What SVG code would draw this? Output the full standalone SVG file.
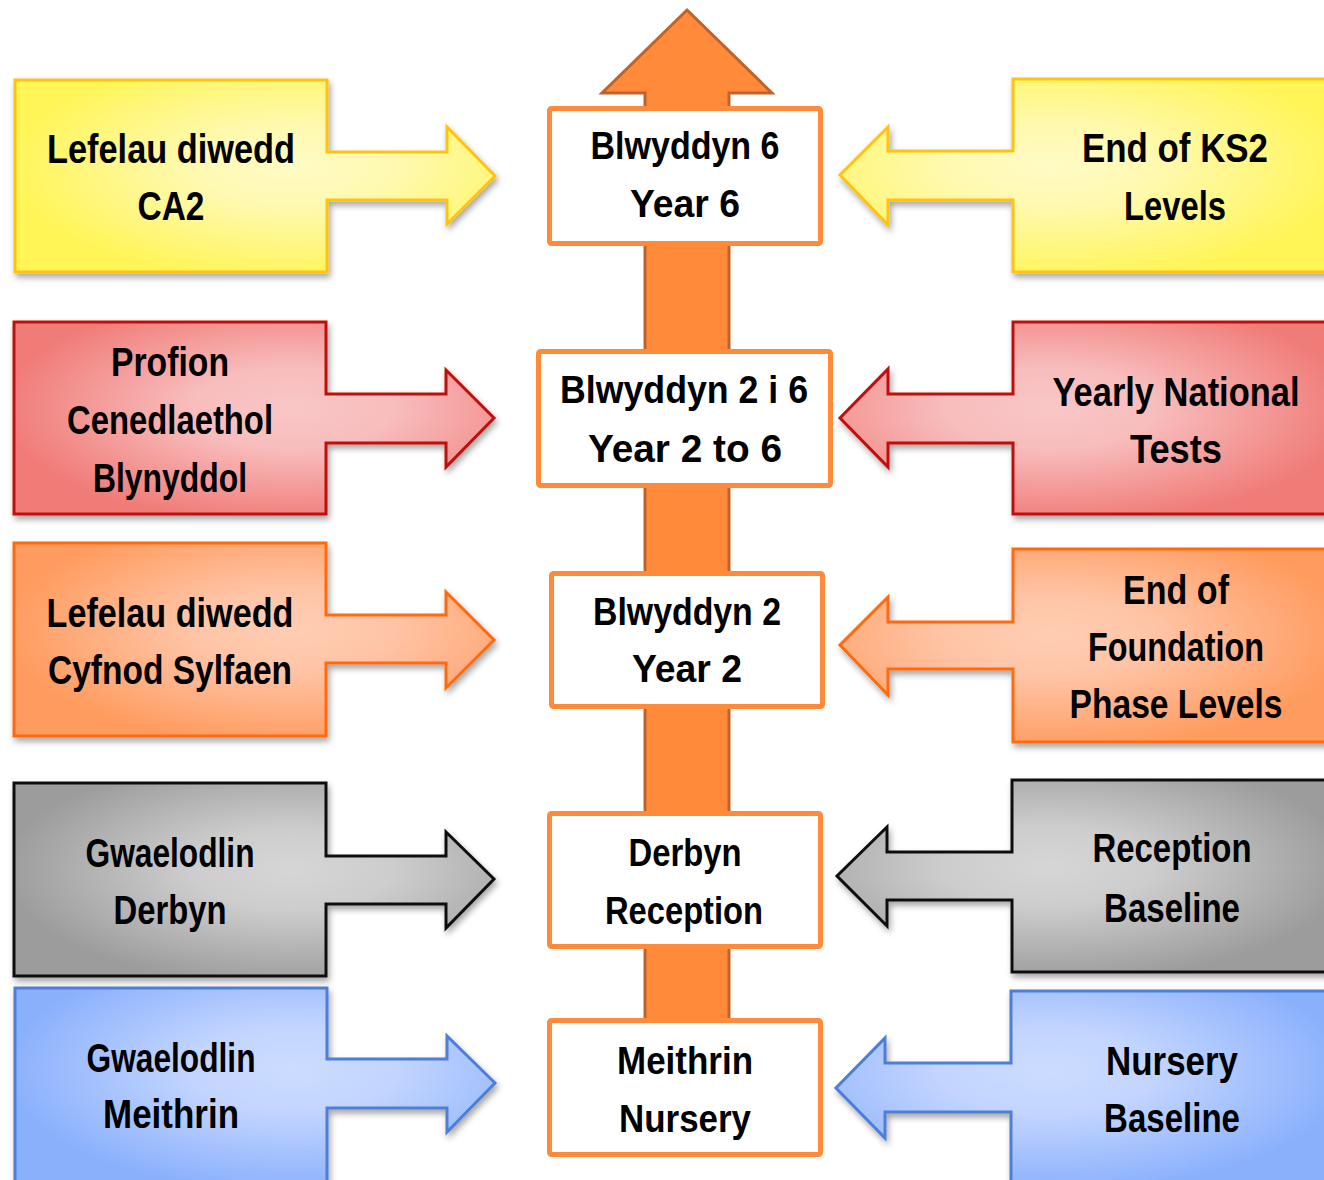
<svg xmlns="http://www.w3.org/2000/svg" width="1324" height="1180" viewBox="0 0 1324 1180">
<defs>
<filter id="sh" x="-10%" y="-10%" width="125%" height="130%">
<feDropShadow dx="2" dy="4" stdDeviation="3" flood-color="#000" flood-opacity="0.35"/>
</filter>
<radialGradient id="gyL" cx="0.58" cy="0.45" r="0.6"><stop offset="0" stop-color="#FFFBC4"/><stop offset="0.35" stop-color="#FFF9B0"/><stop offset="1" stop-color="#FFF556"/></radialGradient>
<radialGradient id="gyR" cx="0.42" cy="0.45" r="0.6"><stop offset="0" stop-color="#FFFBC4"/><stop offset="0.35" stop-color="#FFF9B0"/><stop offset="1" stop-color="#FFF556"/></radialGradient>
<radialGradient id="grL" cx="0.58" cy="0.45" r="0.6"><stop offset="0" stop-color="#F9C6C6"/><stop offset="0.35" stop-color="#F8BDBD"/><stop offset="1" stop-color="#F07C78"/></radialGradient>
<radialGradient id="grR" cx="0.42" cy="0.45" r="0.6"><stop offset="0" stop-color="#F9C6C6"/><stop offset="0.35" stop-color="#F8BDBD"/><stop offset="1" stop-color="#F07C78"/></radialGradient>
<radialGradient id="goL" cx="0.58" cy="0.45" r="0.6"><stop offset="0" stop-color="#FFCDB3"/><stop offset="0.35" stop-color="#FFC4A6"/><stop offset="1" stop-color="#FF9B5E"/></radialGradient>
<radialGradient id="goR" cx="0.42" cy="0.45" r="0.6"><stop offset="0" stop-color="#FFCDB3"/><stop offset="0.35" stop-color="#FFC4A6"/><stop offset="1" stop-color="#FF9B5E"/></radialGradient>
<radialGradient id="ggL" cx="0.58" cy="0.45" r="0.6"><stop offset="0" stop-color="#D6D6D6"/><stop offset="0.35" stop-color="#CDCDCD"/><stop offset="1" stop-color="#9C9C9C"/></radialGradient>
<radialGradient id="ggR" cx="0.42" cy="0.45" r="0.6"><stop offset="0" stop-color="#D6D6D6"/><stop offset="0.35" stop-color="#CDCDCD"/><stop offset="1" stop-color="#9C9C9C"/></radialGradient>
<radialGradient id="gbL" cx="0.58" cy="0.4" r="0.6"><stop offset="0" stop-color="#CCDCFF"/><stop offset="0.35" stop-color="#C3D5FF"/><stop offset="1" stop-color="#8AB0FC"/></radialGradient>
<radialGradient id="gbR" cx="0.42" cy="0.4" r="0.6"><stop offset="0" stop-color="#CCDCFF"/><stop offset="0.35" stop-color="#C3D5FF"/><stop offset="1" stop-color="#8AB0FC"/></radialGradient>
</defs>
<style>
.call{stroke-width:3;stroke-linejoin:miter;filter:url(#sh)}
.y{stroke:#FFC20E}
.r{stroke:#C0100C}
.o{stroke:#FF6A0E}
.g{stroke:#111}
.b{stroke:#4D7FD6}
.box{fill:#fff;stroke:#FF8B3A;stroke-width:5}
.t{font-family:"Liberation Sans","DejaVu Sans",sans-serif;font-weight:bold;font-size:40px;fill:#000;text-anchor:middle}
.c{font-size:38px}
</style>
<rect width="1324" height="1180" fill="#fff"/>

<g id="connectors">
<path id="spine" d="M687,10 L772,93 H729 V1030 H645 V93 H602 Z" fill="#FF8B3A" stroke="#C0622A" stroke-width="3" stroke-linejoin="miter"/>
</g>

<g id="left-ks2">
<path class="call y" fill="url(#gyL)" d="M15,80 H327 V152 H447 V127 L495,176 L447,224 V200 H327 V272 H15 Z"/>
<text class="t" x="171" y="163" textLength="248" lengthAdjust="spacingAndGlyphs">Lefelau diwedd</text>
<text class="t" x="171" y="220" textLength="67" lengthAdjust="spacingAndGlyphs">CA2</text>
</g>
<g id="left-tests">
<path class="call r" fill="url(#grL)" d="M14,322 H326 V394 H446 V370 L494,418 L446,467 V443 H326 V514 H14 Z"/>
<text class="t" x="170" y="376" textLength="118" lengthAdjust="spacingAndGlyphs">Profion</text>
<text class="t" x="170" y="434" textLength="206" lengthAdjust="spacingAndGlyphs">Cenedlaethol</text>
<text class="t" x="170" y="492" textLength="154" lengthAdjust="spacingAndGlyphs">Blynyddol</text>
</g>
<g id="left-fp">
<path class="call o" fill="url(#goL)" d="M14,543 H326 V615 H446 V592 L494,640 L446,688 V663 H326 V736 H14 Z"/>
<text class="t" x="170" y="627" textLength="247" lengthAdjust="spacingAndGlyphs">Lefelau diwedd</text>
<text class="t" x="170" y="684" textLength="244" lengthAdjust="spacingAndGlyphs">Cyfnod Sylfaen</text>
</g>
<g id="left-reception">
<path class="call g" fill="url(#ggL)" d="M14,783 H326 V856 H446 V832 L494,879 L446,928 V904 H326 V976 H14 Z"/>
<text class="t" x="170" y="867" textLength="169" lengthAdjust="spacingAndGlyphs">Gwaelodlin</text>
<text class="t" x="170" y="924" textLength="113" lengthAdjust="spacingAndGlyphs">Derbyn</text>
</g>
<g id="left-nursery">
<path class="call b" fill="url(#gbL)" d="M15,988 H327 V1059 H447 V1036 L495,1083 L447,1132 V1108 H327 V1192 H15 Z"/>
<text class="t" x="171" y="1072" textLength="169" lengthAdjust="spacingAndGlyphs">Gwaelodlin</text>
<text class="t" x="171" y="1128" textLength="136" lengthAdjust="spacingAndGlyphs">Meithrin</text>
</g>

<g id="right-ks2">
<path class="call y" fill="url(#gyR)" d="M1340,79 H1013 V151 H888 V127 L840,175 L888,225 V200 H1013 V272 H1340 Z"/>
<text class="t" x="1175" y="162" textLength="186" lengthAdjust="spacingAndGlyphs">End of KS2</text>
<text class="t" x="1175" y="220" textLength="102" lengthAdjust="spacingAndGlyphs">Levels</text>
</g>
<g id="right-tests">
<path class="call r" fill="url(#grR)" d="M1340,322 H1013 V394 H888 V369 L840,418 L888,467 V443 H1013 V514 H1340 Z"/>
<text class="t" x="1176" y="406" textLength="247" lengthAdjust="spacingAndGlyphs">Yearly National</text>
<text class="t" x="1176" y="463" textLength="92" lengthAdjust="spacingAndGlyphs">Tests</text>
</g>
<g id="right-fp">
<path class="call o" fill="url(#goR)" d="M1340,549 H1013 V622 H888 V597 L840,645 L888,695 V669 H1013 V742 H1340 Z"/>
<text class="t" x="1176" y="604" textLength="106" lengthAdjust="spacingAndGlyphs">End of</text>
<text class="t" x="1176" y="661" textLength="176" lengthAdjust="spacingAndGlyphs">Foundation</text>
<text class="t" x="1176" y="718" textLength="213" lengthAdjust="spacingAndGlyphs">Phase Levels</text>
</g>
<g id="right-reception">
<path class="call g" fill="url(#ggR)" d="M1340,780 H1012 V852 H887 V827 L837,876 L887,926 V900 H1012 V972 H1340 Z"/>
<text class="t" x="1172" y="862" textLength="159" lengthAdjust="spacingAndGlyphs">Reception</text>
<text class="t" x="1172" y="922" textLength="136" lengthAdjust="spacingAndGlyphs">Baseline</text>
</g>
<g id="right-nursery">
<path class="call b" fill="url(#gbR)" d="M1340,991 H1011 V1063 H885 V1038 L836,1088 L885,1138 V1112 H1011 V1192 H1340 Z"/>
<text class="t" x="1172" y="1075" textLength="132" lengthAdjust="spacingAndGlyphs">Nursery</text>
<text class="t" x="1172" y="1132" textLength="136" lengthAdjust="spacingAndGlyphs">Baseline</text>
</g>

<g id="year6">
<rect class="box" x="549.5" y="108.5" width="271" height="135" rx="2"/>
<text class="t c" x="685" y="159" textLength="189" lengthAdjust="spacingAndGlyphs">Blwyddyn 6</text>
<text class="t c" x="685" y="217" textLength="110" lengthAdjust="spacingAndGlyphs">Year 6</text>
</g>
<g id="year2to6">
<rect class="box" x="538.5" y="351.5" width="292" height="134" rx="2"/>
<text class="t c" x="684" y="403" textLength="248" lengthAdjust="spacingAndGlyphs">Blwyddyn 2 i 6</text>
<text class="t c" x="685" y="462" textLength="194" lengthAdjust="spacingAndGlyphs">Year 2 to 6</text>
</g>
<g id="year2">
<rect class="box" x="551.5" y="573.5" width="271" height="133" rx="2"/>
<text class="t c" x="687" y="625" textLength="188" lengthAdjust="spacingAndGlyphs">Blwyddyn 2</text>
<text class="t c" x="687" y="682" textLength="110" lengthAdjust="spacingAndGlyphs">Year 2</text>
</g>
<g id="reception">
<rect class="box" x="549.5" y="813.5" width="271" height="133" rx="2"/>
<text class="t c" x="685" y="866" textLength="113" lengthAdjust="spacingAndGlyphs">Derbyn</text>
<text class="t c" x="684" y="924" textLength="158" lengthAdjust="spacingAndGlyphs">Reception</text>
</g>
<g id="nursery">
<rect class="box" x="549.5" y="1020.5" width="271" height="134" rx="2"/>
<text class="t c" x="685" y="1074" textLength="136" lengthAdjust="spacingAndGlyphs">Meithrin</text>
<text class="t c" x="685" y="1132" textLength="132" lengthAdjust="spacingAndGlyphs">Nursery</text>
</g>
</svg>
